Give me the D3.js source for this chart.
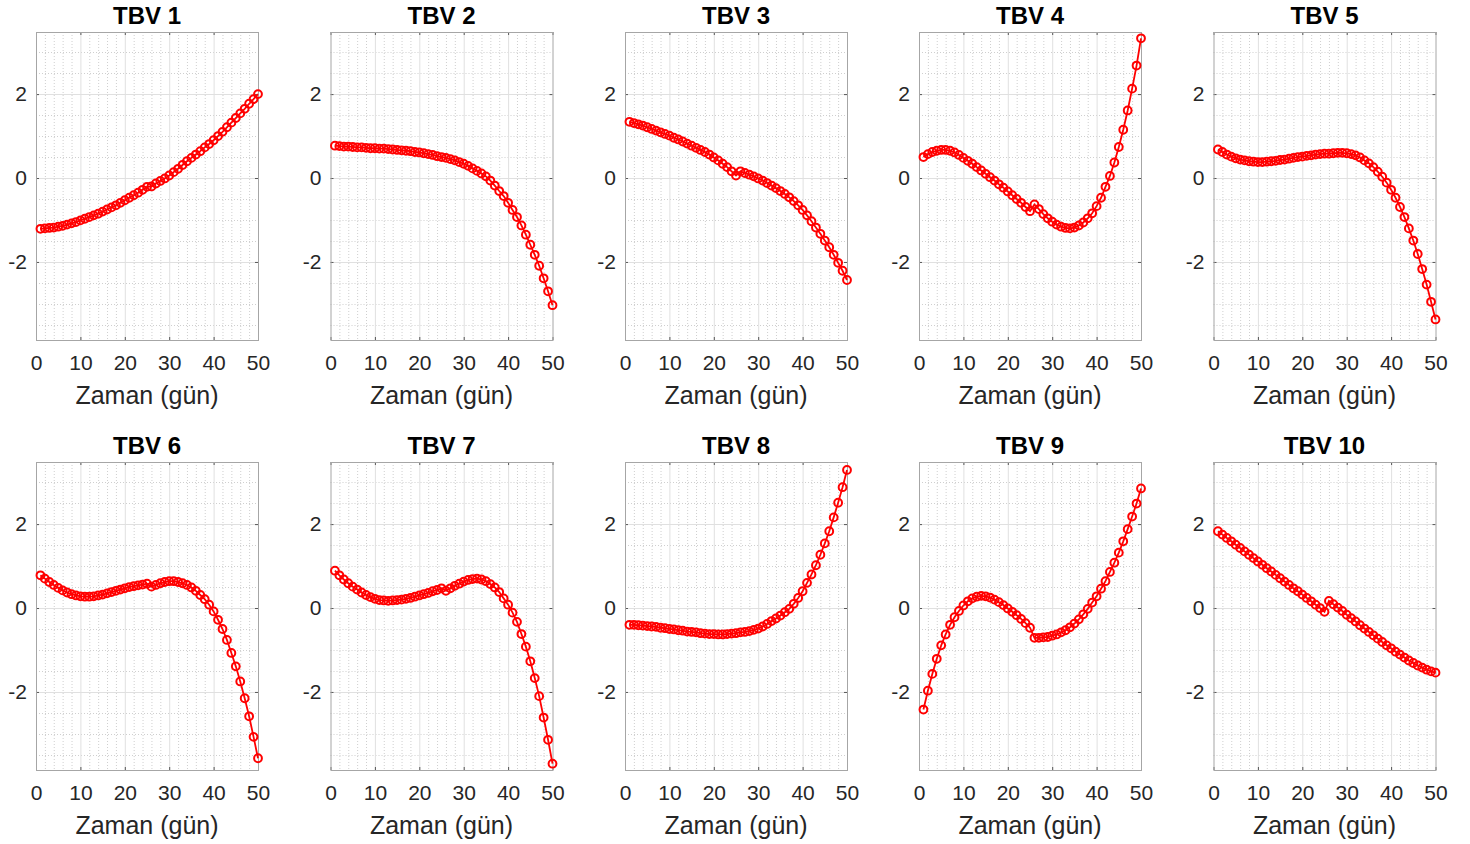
<!DOCTYPE html>
<html>
<head>
<meta charset="utf-8">
<script src="https://cdn.jsdelivr.net/npm/d3@7"></script>
<style>
  html, body { margin: 0; padding: 0; background: #fff; }
  svg { display: block; }
  text { font-family: "Liberation Sans", Arial, Helvetica, sans-serif; }
</style>
</head>
<body>
<script>
// Day index shared by every panel
const days = [1,2,3,4,5,6,7,8,9,10,11,12,13,14,15,16,17,18,19,20,21,22,23,24,25,
              26,27,28,29,30,31,32,33,34,35,36,37,38,39,40,41,42,43,44,45,46,47,48,49,50];

const titles = ["TBV 1","TBV 2","TBV 3","TBV 4","TBV 5","TBV 6","TBV 7","TBV 8","TBV 9","TBV 10"];
const xTicks = [0,10,20,30,40,50];
const yTicks = [-2,0,2];
const xLabel = "Zaman (gün)";

const tbv1 = [-1.21,-1.20,-1.19,-1.18,-1.16,-1.14,-1.11,-1.08,-1.05,-1.01,-0.97,-0.93,-0.89,-0.85,-0.80,
              -0.75,-0.70,-0.65,-0.59,-0.53,-0.47,-0.41,-0.35,-0.28,-0.21,-0.20,-0.13,-0.07,-0.01,0.06,
              0.14,0.22,0.31,0.40,0.48,0.56,0.64,0.73,0.81,0.90,1.00,1.10,1.21,1.32,1.43,1.54,1.65,1.77,1.88,2.00];
const tbv2 = [0.77,0.76,0.75,0.75,0.74,0.73,0.73,0.72,0.71,0.71,0.70,0.70,0.69,0.68,0.67,
              0.66,0.65,0.64,0.62,0.61,0.59,0.57,0.55,0.52,0.50,0.48,0.45,0.42,0.38,0.34,
              0.29,0.23,0.17,0.11,0.04,-0.06,-0.18,-0.31,-0.43,-0.59,-0.76,-0.93,-1.13,-1.35,-1.59,-1.83,-2.09,-2.39,-2.70,-3.03];
const tbv3 = [1.34,1.31,1.28,1.25,1.21,1.17,1.13,1.09,1.05,1.01,0.96,0.92,0.87,0.82,0.77,
              0.72,0.67,0.62,0.56,0.49,0.42,0.34,0.26,0.16,0.06,0.16,0.12,0.08,0.04,-0.01,
              -0.06,-0.12,-0.18,-0.24,-0.31,-0.38,-0.46,-0.55,-0.65,-0.76,-0.89,-1.03,-1.18,-1.33,-1.49,-1.65,-1.83,-2.02,-2.21,-2.43];
const tbv4 = [0.50,0.57,0.62,0.65,0.67,0.67,0.65,0.61,0.55,0.48,0.41,0.34,0.26,0.18,0.10,
              0.02,-0.06,-0.15,-0.23,-0.32,-0.41,-0.50,-0.59,-0.69,-0.79,-0.63,-0.74,-0.86,-0.96,-1.04,
              -1.11,-1.16,-1.19,-1.20,-1.18,-1.13,-1.06,-0.96,-0.84,-0.67,-0.47,-0.21,0.05,0.37,0.74,1.15,1.61,2.13,2.68,3.33];
const tbv5 = [0.68,0.62,0.56,0.51,0.47,0.44,0.42,0.40,0.39,0.38,0.38,0.39,0.40,0.41,0.43,
              0.44,0.46,0.48,0.50,0.51,0.53,0.54,0.56,0.57,0.58,0.58,0.59,0.60,0.60,0.59,
              0.57,0.54,0.49,0.42,0.35,0.26,0.15,0.03,-0.11,-0.28,-0.47,-0.69,-0.93,-1.20,-1.49,-1.81,-2.17,-2.54,-2.95,-3.37];
const tbv6 = [0.78,0.70,0.62,0.55,0.48,0.42,0.37,0.33,0.30,0.28,0.27,0.27,0.28,0.30,0.32,
              0.35,0.38,0.41,0.44,0.47,0.50,0.52,0.54,0.56,0.58,0.51,0.55,0.59,0.62,0.64,
              0.64,0.62,0.59,0.55,0.49,0.41,0.31,0.21,0.08,-0.08,-0.28,-0.50,-0.76,-1.07,-1.39,-1.75,-2.15,-2.58,-3.07,-3.58];
const tbv7 = [0.89,0.78,0.68,0.59,0.51,0.44,0.37,0.31,0.26,0.22,0.19,0.18,0.17,0.18,0.19,
              0.20,0.22,0.24,0.27,0.30,0.33,0.36,0.40,0.43,0.47,0.41,0.47,0.53,0.58,0.63,
              0.67,0.69,0.70,0.68,0.64,0.57,0.49,0.38,0.23,0.08,-0.11,-0.33,-0.62,-0.92,-1.27,-1.67,-2.10,-2.61,-3.14,-3.71];
const tbv8 = [-0.40,-0.40,-0.41,-0.42,-0.43,-0.44,-0.45,-0.47,-0.48,-0.50,-0.51,-0.53,-0.54,-0.56,-0.57,
              -0.58,-0.60,-0.61,-0.62,-0.62,-0.63,-0.63,-0.62,-0.61,-0.60,-0.58,-0.57,-0.55,-0.52,-0.49,
              -0.44,-0.38,-0.31,-0.25,-0.18,-0.10,-0.02,0.10,0.24,0.40,0.60,0.80,1.02,1.27,1.54,1.83,2.16,2.51,2.88,3.29];
const tbv9 = [-2.42,-1.97,-1.57,-1.21,-0.89,-0.63,-0.40,-0.22,-0.07,0.06,0.16,0.23,0.27,0.29,0.28,
              0.25,0.20,0.14,0.07,-0.01,-0.09,-0.17,-0.26,-0.36,-0.47,-0.71,-0.71,-0.70,-0.69,-0.66,
              -0.63,-0.58,-0.53,-0.46,-0.37,-0.27,-0.15,-0.02,0.13,0.28,0.46,0.64,0.86,1.08,1.32,1.59,1.88,2.18,2.49,2.85];
const tbv10 = [1.83,1.75,1.67,1.59,1.51,1.43,1.35,1.27,1.19,1.11,1.03,0.95,0.87,0.79,0.71,
               0.63,0.55,0.47,0.40,0.32,0.24,0.16,0.08,0.00,-0.09,0.17,0.09,0.01,-0.07,-0.16,
               -0.24,-0.32,-0.41,-0.49,-0.57,-0.65,-0.73,-0.81,-0.89,-0.96,-1.04,-1.11,-1.18,-1.25,-1.31,-1.37,-1.42,-1.47,-1.51,-1.54];

const seriesList = [tbv1, tbv2, tbv3, tbv4, tbv5, tbv6, tbv7, tbv8, tbv9, tbv10];

const W = 1470, H = 844;
const svg = d3.select("body").append("svg").attr("width", W).attr("height", H);

// Panel geometry (2 rows x 5 columns)
const colLeft = [36, 330.5, 625, 919, 1213.5];
const rowTop = [32, 462];
const pw = 222, ph = 308;

const x = d3.scaleLinear().domain([0, 50]).range([0, pw]);
const y = d3.scaleLinear().domain([-3.86, 3.48]).range([ph, 0]);

const minorX = d3.range(2, 50, 2).filter(v => v % 10 !== 0);
const minorY = d3.range(-3.5, 3.5, 0.5).filter(v => Math.abs(v % 2) > 1e-9);
const majorY = d3.range(-2, 3, 2);

const line = d3.line().x((d, i) => x(days[i])).y(d => y(d));

seriesList.forEach((vals, k) => {
  const r = Math.floor(k / 5), c = k % 5;
  const g = svg.append("g").attr("transform", `translate(${colLeft[c]},${rowTop[r]})`);

  // minor grid (dotted)
  g.selectAll(".mx").data(minorX).join("line")
    .attr("x1", d => x(d) + 0.5).attr("x2", d => x(d) + 0.5)
    .attr("y1", 0).attr("y2", ph)
    .attr("stroke", "#cfcfcf").attr("stroke-width", 1).attr("stroke-dasharray", "1,2");
  g.selectAll(".my").data(minorY).join("line")
    .attr("y1", d => Math.round(y(d)) + 0.5).attr("y2", d => Math.round(y(d)) + 0.5)
    .attr("x1", 0).attr("x2", pw)
    .attr("stroke", "#cfcfcf").attr("stroke-width", 1).attr("stroke-dasharray", "1,2");

  // major grid
  g.selectAll(".gx").data(xTicks.slice(1, -1)).join("line")
    .attr("x1", d => x(d) + 0.5).attr("x2", d => x(d) + 0.5)
    .attr("y1", 0).attr("y2", ph)
    .attr("stroke", "#e0e0e0").attr("stroke-width", 1);
  g.selectAll(".gy").data(majorY).join("line")
    .attr("y1", d => Math.round(y(d)) + 0.5).attr("y2", d => Math.round(y(d)) + 0.5)
    .attr("x1", 0).attr("x2", pw)
    .attr("stroke", "#e0e0e0").attr("stroke-width", 1);

  // axes with inward ticks on all four sides
  const axB = d3.axisBottom(x).tickValues(xTicks).tickSizeInner(-3).tickSizeOuter(0).tickPadding(15);
  const axT = d3.axisTop(x).tickValues(xTicks).tickSizeInner(-3).tickSizeOuter(0).tickFormat("");
  const axL = d3.axisLeft(y).tickValues(yTicks).tickSizeInner(-3).tickSizeOuter(0).tickPadding(9);
  const axR = d3.axisRight(y).tickValues(yTicks).tickSizeInner(-3).tickSizeOuter(0).tickFormat("");

  const styleAxis = sel => {
    sel.select(".domain").remove();
    sel.selectAll(".tick line").attr("stroke", "#555").attr("stroke-width", 1);
    sel.selectAll(".tick text").attr("fill", "#262626").style("font-size", "21px")
      .style("font-family", "'Liberation Sans', Arial, sans-serif");
  };
  g.append("g").attr("transform", `translate(0,${ph})`).call(axB).call(styleAxis);
  g.append("g").call(axT).call(styleAxis);
  g.append("g").call(axL).call(styleAxis);
  g.append("g").attr("transform", `translate(${pw},0)`).call(axR).call(styleAxis);
  g.selectAll(".tick text").filter(function () { return this.textContent !== ""; })
    .text(function () { return this.textContent.replace("\u2212", "-"); });

  // box
  g.append("rect").attr("x", 0.5).attr("y", 0.5).attr("width", pw).attr("height", ph)
    .attr("fill", "none").attr("stroke", "#a6a6a6").attr("stroke-width", 1);

  // series: connecting line and open circle markers
  g.append("path").datum(vals).attr("d", line)
    .attr("fill", "none").attr("stroke", "#ff0000").attr("stroke-width", 1.8);
  g.selectAll(".pt").data(vals).join("circle")
    .attr("cx", (d, i) => x(days[i])).attr("cy", d => y(d)).attr("r", 3.9)
    .attr("fill", "none").attr("stroke", "#ff0000").attr("stroke-width", 2);

  // title and x label
  g.append("text").attr("x", pw / 2).attr("y", -8).attr("text-anchor", "middle")
    .style("font-size", "24px").style("font-weight", "bold").attr("fill", "#000")
    .text(titles[k]);
  g.append("text").attr("x", pw / 2).attr("y", ph + 64).attr("text-anchor", "middle")
    .style("font-size", "25px").attr("fill", "#262626")
    .text(xLabel);
});
</script>
</body>
</html>
